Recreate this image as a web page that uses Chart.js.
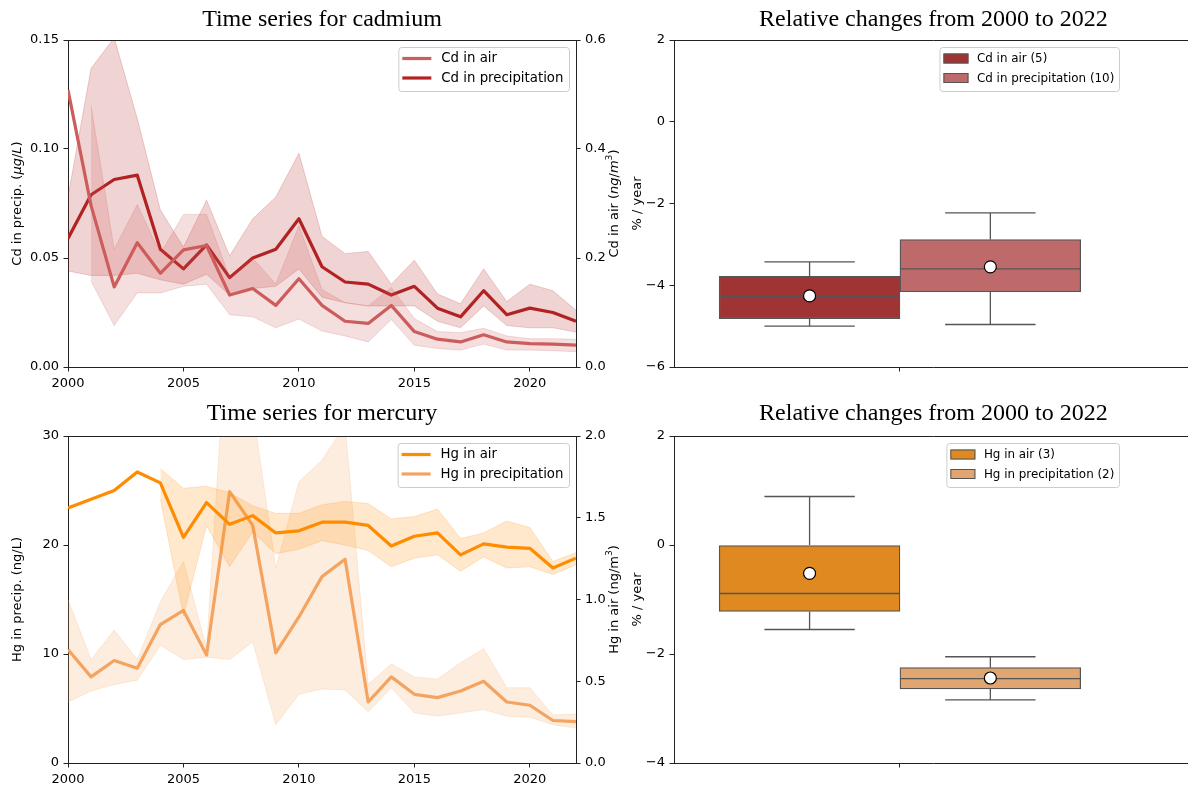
<!DOCTYPE html>
<html><head><meta charset="utf-8"><title>Cadmium and mercury time series</title>
<script src="https://cdn.jsdelivr.net/npm/chart.js@4.4.1/dist/chart.umd.min.js"></script>
<style>
html,body{margin:0;padding:0;background:#fff;overflow:hidden;}
body{width:1188px;height:788px;position:relative;}
canvas{position:absolute;display:block;}
</style></head>
<body>
<canvas id="cdSeries" width="634" height="394" style="left:0;top:0"></canvas>
<canvas id="cdBox" width="572" height="394" style="left:628px;top:0"></canvas>
<canvas id="hgSeries" width="634" height="394" style="left:0;top:394px"></canvas>
<canvas id="hgBox" width="572" height="394" style="left:628px;top:394px"></canvas>
<script>
// ---------------- data ----------------
const years = [2000,2001,2002,2003,2004,2005,2006,2007,2008,2009,2010,2011,2012,2013,2014,2015,2016,2017,2018,2019,2020,2021,2022];
const yearTicks = [2000,2005,2010,2015,2020];

const cdSeriesLabels = ['Cd in air','Cd in precipitation'];
const cdPrecipMean = [0.059,0.079,0.086,0.088,0.054,0.045,0.056,0.041,0.050,0.054,0.068,0.046,0.039,0.038,0.033,0.037,0.027,0.023,0.035,0.024,0.027,0.025,0.021];
const cdPrecipLow  = [0.044,0.042,0.042,0.043,0.040,0.038,0.0425,0.033,0.036,0.037,0.045,0.032,0.0295,0.028,0.028,0.028,0.021,0.018,0.028,0.019,0.018,0.018,0.016];
const cdPrecipHigh = [0.078,0.137,0.151,0.114,0.072,0.055,0.0765,0.051,0.068,0.078,0.098,0.060,0.052,0.053,0.038,0.049,0.0335,0.029,0.045,0.030,0.038,0.035,0.026];
const cdAirMean = [0.508,0.296,0.147,0.228,0.172,0.215,0.223,0.132,0.144,0.113,0.162,0.113,0.084,0.080,0.113,0.065,0.051,0.046,0.059,0.046,0.043,0.042,0.040];
const cdAirLow  = [null,0.158,0.076,0.136,0.136,0.148,0.152,0.096,0.092,0.072,0.088,0.066,0.057,0.046,0.087,0.040,0.034,0.031,0.042,0.031,0.031,0.030,0.028];
const cdAirHigh = [null,0.479,0.216,0.298,0.208,0.280,0.280,0.164,0.200,0.152,0.259,0.142,0.118,0.112,0.146,0.089,0.065,0.063,0.071,0.057,0.052,0.052,0.051];
const cdPrecipTicks = [0,0.05,0.10,0.15];
const cdAirTicks = [0,0.2,0.4,0.6];

const hgSeriesLabels = ['Hg in air','Hg in precipitation'];
const hgAirMean = [1.560,1.613,1.667,1.780,1.713,1.380,1.593,1.460,1.513,1.407,1.420,1.473,1.473,1.453,1.327,1.387,1.407,1.273,1.340,1.320,1.313,1.193,1.253];
const hgAirLow  = [null,null,null,null,1.613,0.900,1.453,1.200,1.413,1.280,1.307,1.360,1.333,1.300,1.200,1.253,1.273,1.173,1.260,1.193,1.200,1.153,1.213];
const hgAirHigh = [null,null,null,null,1.800,1.680,1.693,1.653,1.573,1.527,1.527,1.580,1.600,1.587,1.493,1.507,1.553,1.373,1.407,1.480,1.440,1.233,1.287];
const hgPrecipMean = [10.4,7.9,9.4,8.7,12.7,14.0,9.9,24.9,21.8,10.1,13.4,17.1,18.7,5.6,7.9,6.3,6.0,6.6,7.5,5.6,5.3,3.9,3.8];
const hgPrecipLow  = [5.6,6.6,7.2,7.6,10.8,9.5,9.7,9.5,11.1,3.5,6.3,6.8,6.7,4.7,6.9,4.6,4.3,4.6,4.9,4.3,4.2,3.5,3.2];
const hgPrecipHigh = [15.0,9.5,12.2,9.5,14.8,18.5,10.5,44.0,32.4,17.9,25.8,27.8,31.0,7.2,9.1,7.9,7.7,9.2,10.5,6.9,6.9,4.4,4.5];
const hgPrecipTicks = [0,10,20,30];
const hgAirTicks = [0,0.5,1.0,1.5,2.0];

const cdBoxLabels = ['Cd in air (5)','Cd in precipitation (10)'];
const cdBoxQ1 = [-4.82,-4.16];
const cdBoxMedian = [-4.27,-3.60];
const cdBoxQ3 = [-3.78,-2.88];
const cdBoxWhiskerLow = [-5.00,-4.96];
const cdBoxWhiskerHigh = [-3.43,-2.23];
const cdBoxMean = [-4.26,-3.55];
const cdBoxTicks = [2,0,-2,-4,-6];

const hgBoxLabels = ['Hg in air (3)','Hg in precipitation (2)'];
const hgBoxQ1 = [-1.22,-2.64];
const hgBoxMedian = [-0.89,-2.45];
const hgBoxQ3 = [0.00,-2.25];
const hgBoxWhiskerLow = [-1.55,-2.84];
const hgBoxWhiskerHigh = [0.89,-2.05];
const hgBoxMean = [-0.52,-2.44];
const hgBoxTicks = [2,0,-2,-4];

// ---------------- styles ----------------
const FONT = '"DejaVu Sans", sans-serif';
const SERIF = '"Liberation Serif", "Times New Roman", serif';
const SPINE = '#222';
Chart.defaults.font.family = FONT;
Chart.defaults.font.size = 13;
Chart.defaults.color = '#000';
Chart.defaults.animation = false;

function minusFmt(v){ return v < 0 ? '\u2212' + Math.abs(v) : String(v); }

function drawRich(ctx, segs, cx, cy, size) {
  ctx.save();
  ctx.translate(cx, cy);
  ctx.rotate(-Math.PI/2);
  let total = 0;
  const parts = segs.map(s => {
    const fs = s.sup ? size*0.7 : size;
    const font = (s.i ? 'italic ' : '') + fs + 'px ' + FONT;
    ctx.font = font;
    const w = ctx.measureText(s.t).width;
    total += w;
    return {s, font, w};
  });
  let x = -total/2;
  ctx.fillStyle = '#000';
  ctx.textBaseline = 'middle';
  ctx.textAlign = 'left';
  parts.forEach(p => {
    ctx.font = p.font;
    ctx.fillText(p.s.t, x, p.s.sup ? -size*0.38 : 0);
    x += p.w;
  });
  ctx.restore();
}

function roundRectPath(ctx, x, y, w, h, r) {
  ctx.beginPath();
  ctx.moveTo(x+r, y);
  ctx.lineTo(x+w-r, y); ctx.arcTo(x+w, y, x+w, y+r, r);
  ctx.lineTo(x+w, y+h-r); ctx.arcTo(x+w, y+h, x+w-r, y+h, r);
  ctx.lineTo(x+r, y+h); ctx.arcTo(x, y+h, x, y+h-r, r);
  ctx.lineTo(x, y+r); ctx.arcTo(x, y, x+r, y, r);
  ctx.closePath();
}

function drawLegend(ctx, L, a) {
  ctx.save();
  ctx.font = L.size + 'px ' + FONT;
  const maxW = Math.max(...L.items.map(it => ctx.measureText(it.label).width));
  const right = L.right, top = a.top + 7, h = 44;
  const textX = right - L.padR - maxW;
  const left = textX - L.textOff;
  roundRectPath(ctx, left + 0.5, top + 0.5, right - left, h, 3);
  ctx.fillStyle = 'rgba(255,255,255,0.8)';
  ctx.fill();
  ctx.strokeStyle = '#cccccc';
  ctx.lineWidth = 1;
  ctx.stroke();
  L.items.forEach((it, k) => {
    const cy = top + 11.5 + k * 19.5;
    if (it.kind === 'line') {
      ctx.strokeStyle = it.color; ctx.lineWidth = 3.2; ctx.lineCap = 'butt';
      ctx.beginPath(); ctx.moveTo(left + 4, cy); ctx.lineTo(left + 33, cy); ctx.stroke();
    } else {
      ctx.fillStyle = it.color;
      ctx.fillRect(left + 4, cy - 5, 25, 10);
      ctx.strokeStyle = '#555'; ctx.lineWidth = 1;
      ctx.strokeRect(left + 4.5, cy - 4.5, 24, 9);
    }
    ctx.font = L.size + 'px ' + FONT;
    ctx.fillStyle = '#000';
    ctx.textBaseline = 'middle';
    ctx.textAlign = 'left';
    ctx.fillText(it.label, textX, cy + 0.5);
  });
  ctx.restore();
}

function extras(o) {
  return {
    id: 'extras',
    afterDraw(chart) {
      const ctx = chart.ctx, a = chart.chartArea;
      ctx.save();
      ctx.strokeStyle = SPINE; ctx.lineWidth = 1;
      ctx.beginPath(); ctx.moveTo(a.left, a.top + 0.5); ctx.lineTo(a.right, a.top + 0.5); ctx.stroke();
      ctx.restore();
      o.axisTitles.forEach(t => drawRich(ctx, t.segs, t.x, (a.top + a.bottom) / 2, 13));
      drawLegend(ctx, o.legend, a);
    }
  };
}

function tickAxis(extra) {
  return Object.assign({
    grid: {display: true, drawOnChartArea: false, drawTicks: true, tickLength: 4.5, tickColor: SPINE, tickWidth: 1, offset: false},
    border: {display: true, color: SPINE, width: 1},
    ticks: {padding: 4.5, color: '#000', font: {size: 13}, autoSkip: false, maxRotation: 0}
  }, extra);
}

function makeLineChart(id, o) {
  const pts = arr => years.map((y, i) => ({x: y, y: arr[i]}));
  const lineDs = (label, arr, axis, color, order) => ({label, data: pts(arr), yAxisID: axis, borderColor: color, borderWidth: 3.2, pointRadius: 0, fill: false, order, tension: 0, borderJoinStyle: 'round'});
  const bandDs = (label, arr, axis, color, fill, order) => ({label, data: pts(arr), yAxisID: axis, borderColor: color, backgroundColor: color, borderWidth: 1, pointRadius: 0, fill, order, tension: 0});
  const xa = tickAxis({type: 'linear', min: 2000, max: 2022,
    afterBuildTicks: s => { s.ticks = yearTicks.map(v => ({value: v})); },
    afterFit: s => { s.height = o.xH; }});
  xa.ticks = Object.assign({}, xa.ticks, {callback: v => String(v)});
  const ya = tickAxis({position: 'left', min: 0, max: o.leftTicks[o.leftTicks.length - 1],
    afterBuildTicks: s => { s.ticks = o.leftTicks.map(v => ({value: v})); },
    afterFit: s => { s.width = 68; }});
  ya.ticks = Object.assign({}, ya.ticks, {callback: v => v.toFixed(o.leftDec)});
  const y2 = tickAxis({position: 'right', min: 0, max: o.rightTicks[o.rightTicks.length - 1],
    afterBuildTicks: s => { s.ticks = o.rightTicks.map(v => ({value: v})); },
    afterFit: s => { s.width = 58; }});
  y2.ticks = Object.assign({}, y2.ticks, {callback: v => v.toFixed(1)});
  return new Chart(document.getElementById(id), {
    type: 'line',
    data: {datasets: [
      lineDs(o.labels[0], o.airMean, 'y2', o.airColor, 0),
      bandDs(o.labels[0] + ' upper', o.airHigh, 'y2', o.airBand, '+1', 1),
      bandDs(o.labels[0] + ' lower', o.airLow, 'y2', o.airBand, false, 1),
      lineDs(o.labels[1], o.precipMean, 'y', o.precipColor, 2),
      bandDs(o.labels[1] + ' upper', o.precipHigh, 'y', o.precipBand, '+1', 3),
      bandDs(o.labels[1] + ' lower', o.precipLow, 'y', o.precipBand, false, 3)
    ]},
    options: {
      responsive: false, animation: false,
      layout: {padding: 0},
      plugins: {
        legend: {display: false}, tooltip: {enabled: false},
        title: {display: true, text: o.title, color: '#000', fullSize: false,
          font: {family: SERIF, size: 24, weight: 'normal', lineHeight: 1.2},
          padding: {top: 5.6, bottom: o.titleBottom}}
      },
      scales: {x: xa, y: ya, y2: y2}
    },
    plugins: [extras({
      axisTitles: [{x: 18, segs: o.leftTitle}, {x: 615, segs: o.rightTitle}],
      legend: {right: 569, size: 13.3, padR: 5.6, textOff: 43, items: [
        {label: o.labels[0], color: o.airColor, kind: 'line'},
        {label: o.labels[1], color: o.precipColor, kind: 'line'}]}
    })]
  });
}

function makeBoxChart(id, o) {
  const n = o.labels.length;
  const xs = o.labels.map((_, i) => (i - (n - 1) / 2) * 0.4);
  const lines = [];
  xs.forEach((c, i) => {
    lines.push({x: c, y: o.q3[i]}, {x: c, y: o.whi[i]}, {x: c, y: null},
      {x: c - 0.1, y: o.whi[i]}, {x: c + 0.1, y: o.whi[i]}, {x: c, y: null},
      {x: c, y: o.q1[i]}, {x: c, y: o.wlo[i]}, {x: c, y: null},
      {x: c - 0.1, y: o.wlo[i]}, {x: c + 0.1, y: o.wlo[i]}, {x: c, y: null},
      {x: c - 0.2, y: o.med[i]}, {x: c + 0.2, y: o.med[i]}, {x: c, y: null});
  });
  const xa = tickAxis({type: 'linear', min: -0.5, max: 0.648, offset: false,
    afterBuildTicks: s => { s.ticks = [{value: 0}]; },
    afterFit: s => { s.height = o.xH; }});
  xa.ticks = Object.assign({}, xa.ticks, {callback: () => ''});
  const ya = tickAxis({type: 'linear', position: 'left', min: o.ticks[o.ticks.length - 1], max: o.ticks[0],
    afterBuildTicks: s => { s.ticks = o.ticks.map(v => ({value: v})); },
    afterFit: s => { s.width = 46; }});
  ya.ticks = Object.assign({}, ya.ticks, {callback: v => minusFmt(v)});
  return new Chart(document.getElementById(id), {
    type: 'bar',
    data: {datasets: [
      {type: 'scatter', label: 'mean', data: xs.map((c, i) => ({x: c, y: o.mean[i]})), pointRadius: 6, pointBackgroundColor: '#fff', pointBorderColor: '#000', pointBorderWidth: 1.2, showLine: false, order: 0},
      {type: 'line', label: 'whiskers', data: lines, borderColor: '#555', borderWidth: 1.3, pointRadius: 0, fill: false, spanGaps: false, order: 1},
      {type: 'bar', label: 'boxes', data: xs.map((c, i) => ({x: c, y: [o.q1[i], o.q3[i]]})), backgroundColor: o.colors, borderColor: '#555', borderWidth: 1.3, borderSkipped: false, barPercentage: 1, categoryPercentage: 1, order: 2}
    ]},
    options: {
      responsive: false, animation: false,
      layout: {padding: {left: 0, right: 7, top: 0, bottom: 0}},
      plugins: {
        legend: {display: false}, tooltip: {enabled: false},
        title: {display: true, text: 'Relative changes from 2000 to 2022', color: '#000', fullSize: false,
          font: {family: SERIF, size: 24, weight: 'normal', lineHeight: 1.2},
          padding: {top: 5.6, bottom: o.titleBottom}}
      },
      scales: {x: xa, y: ya}
    },
    plugins: [extras({
      axisTitles: [{x: 10, segs: [{t: '% / year'}]}],
      legend: {right: 491, size: 11.9, padR: 4.7, textOff: 37.5, items: o.labels.map((l, i) => ({label: l, color: o.colors[i], kind: 'box'}))}
    })]
  });
}

makeLineChart('cdSeries', {
  title: 'Time series for cadmium', titleBottom: 5.6, xH: 27,
  labels: cdSeriesLabels,
  airMean: cdAirMean, airLow: cdAirLow, airHigh: cdAirHigh,
  precipMean: cdPrecipMean, precipLow: cdPrecipLow, precipHigh: cdPrecipHigh,
  airColor: '#cd5c5c', airBand: 'rgba(205,92,92,0.2)',
  precipColor: '#b22222', precipBand: 'rgba(178,34,34,0.2)',
  leftTicks: cdPrecipTicks, leftDec: 2, rightTicks: cdAirTicks,
  leftTitle: [{t: 'Cd in precip. ('}, {t: 'μg', i: 1}, {t: '/'}, {t: 'L', i: 1}, {t: ')'}],
  rightTitle: [{t: 'Cd in air ('}, {t: 'ng', i: 1}, {t: '/'}, {t: 'm', i: 1}, {t: '3', sup: 1}, {t: ')'}]
});

makeLineChart('hgSeries', {
  title: 'Time series for mercury', titleBottom: 7.6, xH: 25,
  labels: hgSeriesLabels,
  airMean: hgAirMean, airLow: hgAirLow, airHigh: hgAirHigh,
  precipMean: hgPrecipMean, precipLow: hgPrecipLow, precipHigh: hgPrecipHigh,
  airColor: '#ff8c00', airBand: 'rgba(255,140,0,0.2)',
  precipColor: '#f4a460', precipBand: 'rgba(244,164,96,0.2)',
  leftTicks: hgPrecipTicks, leftDec: 0, rightTicks: hgAirTicks,
  leftTitle: [{t: 'Hg in precip. (ng/L)'}],
  rightTitle: [{t: 'Hg in air (ng/m'}, {t: '3', sup: 1}, {t: ')'}]
});

makeBoxChart('cdBox', {
  titleBottom: 5.6, xH: 27, labels: cdBoxLabels, colors: ['#a03434', '#bf6a6a'],
  q1: cdBoxQ1, med: cdBoxMedian, q3: cdBoxQ3, wlo: cdBoxWhiskerLow, whi: cdBoxWhiskerHigh, mean: cdBoxMean,
  ticks: cdBoxTicks
});

makeBoxChart('hgBox', {
  titleBottom: 7.6, xH: 25, labels: hgBoxLabels, colors: ['#df8920', '#e1a572'],
  q1: hgBoxQ1, med: hgBoxMedian, q3: hgBoxQ3, wlo: hgBoxWhiskerLow, whi: hgBoxWhiskerHigh, mean: hgBoxMean,
  ticks: hgBoxTicks
});
</script>
</body></html>
